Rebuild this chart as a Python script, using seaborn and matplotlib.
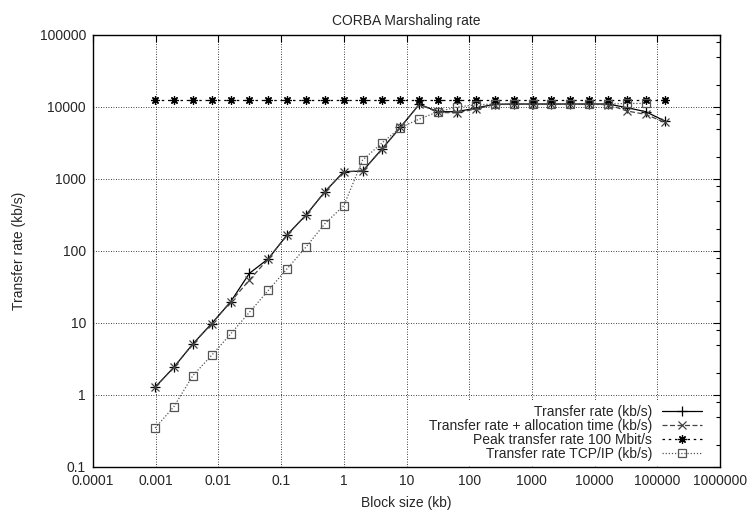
import numpy as np
import pandas as pd
import seaborn as sns
import matplotlib
matplotlib.use("Agg")
import matplotlib.pyplot as plt
from matplotlib.ticker import FixedLocator, FixedFormatter, LogLocator, NullFormatter

# ─────────────────────────────────────────────
# Data
# ─────────────────────────────────────────────

block_size = [0.000977, 0.00195, 0.0039, 0.0078, 0.0156, 0.03125, 0.0625,
              0.125, 0.25, 0.5, 1, 2, 4, 8, 16, 32, 64, 128, 256, 512,
              1024, 2048, 4096, 8192, 16384, 32768, 65536, 131072]

transfer_rate = [1.28, 2.43, 5.1, 9.8, 19.6, 49, 78, 168, 316, 667, 1262,
                 1290, 2570, 5230, 10900, 8600, 8600, 9700, 10900, 11000,
                 11000, 11000, 11000, 11000, 11000, 9800, 8600, 6400]

transfer_alloc = [1.28, 2.43, 5.1, 9.8, 19.6, 39.5, 78, 168, 316, 667, 1262,
                  1290, 2570, 5230, 10900, 8400, 8300, 9400, 10800, 10900,
                  10900, 10900, 10900, 10900, 10800, 8800, 7900, 6100]

peak_rate = [12500, 12500, 12500, 12500, 12500, 12500, 12500, 12500, 12500,
             12500, 12500, 12500, 12500, 12500, 12500, 12500, 12500, 12500,
             12500, 12500, 12500, 12500, 12500, 12500, 12500, 12500, 12500,
             12500]

tcp_rate = [0.348, 0.688, 1.85, 3.56, 7.0, 14.1, 28.4, 56.9, 113.6, 240,
            427, 1836, 3130, 5180, 6800, 8600, 10000, 10700, 11000, 11000,
            11000, 11000, 11000, 11000, 11000, 11200, 11200]

series_labels = ["Transfer rate (kb/s)",
                 "Transfer rate + allocation time (kb/s)",
                 "Peak transfer rate 100 Mbit/s",
                 "Transfer rate TCP/IP (kb/s)"]

xticks = [1e-4, 1e-3, 1e-2, 1e-1, 1, 10, 100, 1e3, 1e4, 1e5, 1e6]
xtick_labels = ["0.0001", "0.001", "0.01", "0.1", "1", "10", "100",
                "1000", "10000", "100000", "1000000"]
yticks = [0.1, 1, 10, 100, 1e3, 1e4, 1e5]
ytick_labels = ["0.1", "1", "10", "100", "1000", "10000", "100000"]

# ─────────────────────────────────────────────
# Style
# ─────────────────────────────────────────────

sns.set_style("white")
plt.rcParams["font.family"] = ["Liberation Sans", "DejaVu Sans"]
plt.rcParams["font.size"] = 10
plt.rcParams["xtick.direction"] = "in"
plt.rcParams["ytick.direction"] = "in"

fig = plt.figure(figsize=(7.55, 5.15), dpi=100)
ax = fig.add_axes([93 / 755, 48 / 515, 627 / 755, 432 / 515])

styles = [
    dict(color="black", linestyle="-", marker="+", markersize=7),
    dict(color="#444444", linestyle=(0, (4, 2)), marker="x", markersize=5.5),
    dict(color="black", linestyle=(0, (2, 3)), marker=(8, 2, 0), markersize=6),
    dict(color="#555555", linestyle=(0, (1, 1.5)), marker="s", markersize=6,
         mfc="none"),
]
ys = [transfer_rate, transfer_alloc, peak_rate, tcp_rate]

for yv, lab, st in zip(ys, series_labels, styles):
    df = pd.DataFrame({"x": block_size[:len(yv)], "y": yv})
    # seaborn draws white marker edges by default, so set them to the line colour
    sns.lineplot(data=df, x="x", y="y", ax=ax, label=lab, lw=0.9,
                 mec=st["color"], mew=0.9, **st)

ax.set_xscale("log")
ax.set_yscale("log")
ax.set_xlim(1e-4, 1e6)
ax.set_ylim(0.1, 1e5)

ax.xaxis.set_major_locator(FixedLocator(xticks))
ax.xaxis.set_major_formatter(FixedFormatter(xtick_labels))
ax.xaxis.set_minor_locator(FixedLocator([]))
ax.yaxis.set_major_locator(FixedLocator(yticks))
ax.yaxis.set_major_formatter(FixedFormatter(ytick_labels))
ax.yaxis.set_minor_locator(LogLocator(base=10, subs=(2, 5, 8)))
ax.yaxis.set_minor_formatter(NullFormatter())

ax.tick_params(which="both", top=True, right=True, direction="in",
               labelsize=10, pad=5, color="black")
ax.tick_params(which="major", length=5, width=0.8)
ax.tick_params(which="minor", length=3, width=0.8)

ax.grid(True, which="major", color="black", linestyle=(0, (1, 2)), lw=0.6)
for s in ax.spines.values():
    s.set_color("black")
    s.set_linewidth(1.0)

ax.set_title("CORBA Marshaling rate", fontsize=10, pad=7)
ax.set_xlabel("Block size (kb)", fontsize=10, labelpad=6)
ax.set_ylabel("Transfer rate (kb/s)", fontsize=10, labelpad=10)

leg = ax.legend(loc="lower right", bbox_to_anchor=(0.978, 0.005),
                markerfirst=False, numpoints=1,
                handlelength=2.9, handletextpad=0.7, labelspacing=0.0,
                borderpad=0.3, borderaxespad=0.0, frameon=True,
                fancybox=False, framealpha=1, fontsize=10)
leg.get_frame().set_facecolor("white")
leg.get_frame().set_edgecolor("none")

fig.savefig("out.png", dpi=100)
